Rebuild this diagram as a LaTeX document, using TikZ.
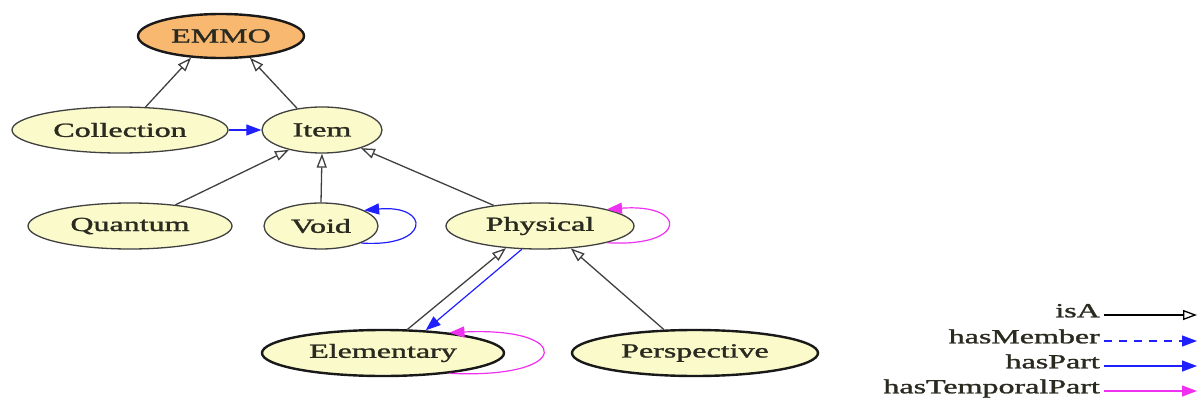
\documentclass[tikz,border=0pt]{standalone}
\usepackage{fontspec}
\setmainfont{Liberation Serif}
\newfontfamily\heavyserif[FakeBold=1.2]{Liberation Serif}
\usetikzlibrary{shapes.geometric,arrows.meta}
\definecolor{nodefill}{HTML}{FAFACA}
\definecolor{rootfill}{HTML}{F8B870}
\definecolor{edgegray}{HTML}{404040}
\definecolor{txtcol}{HTML}{2A2A20}
\definecolor{partblue}{HTML}{2020FF}
\definecolor{tempmag}{HTML}{F030F0}
\newcommand{\wtxt}[1]{\scalebox{1.6}[1]{#1}}
\tikzset{
  cls/.style={ellipse, draw=black!75, line width=1.3pt, fill=nodefill, inner sep=0pt,
    font=\heavyserif\fontsize{20}{24}\selectfont, text=txtcol},
  thickcls/.style={cls, line width=2.4pt, draw=black!90},
  rootcls/.style={cls, line width=2.4pt, draw=black!90, fill=rootfill},
  isa/.style={draw=edgegray, line width=1.3pt, -{Triangle[open, length=14pt, width=10pt, fill=white]}},
  haspart/.style={draw=partblue, line width=1.2pt, -{Triangle[length=15pt, width=11pt]}, color=partblue},
  hasmember/.style={haspart, dash pattern=on 8pt off 7pt},
  temporal/.style={draw=tempmag, line width=1.2pt, -{Triangle[length=15pt, width=11pt]}, color=tempmag},
  legtxt/.style={anchor=mid east, inner sep=0pt, font=\heavyserif\fontsize{20}{24}\selectfont, text=txtcol}
}
\begin{document}
\begin{tikzpicture}[x=1pt,y=-1pt]
\useasboundingbox (0,0) rectangle (1202,401);
% nodes
\node[rootcls, minimum width=166pt, minimum height=44pt] (EMMO) at (221,36) {\wtxt{EMMO}};
\node[cls, minimum width=216pt, minimum height=46pt] (Collection) at (120,130) {\wtxt{Collection}};
\node[cls, minimum width=120pt, minimum height=46pt] (Item) at (322,130) {\wtxt{Item}};
\node[cls, minimum width=204pt, minimum height=46pt] (Quantum) at (130,226) {\wtxt{Quantum}};
\node[cls, minimum width=114pt, minimum height=46pt] (Void) at (321,226) {\wtxt{Void}};
\node[cls, minimum width=188pt, minimum height=46pt] (Physical) at (540,226) {\wtxt{Physical}};
\node[thickcls, minimum width=242pt, minimum height=46pt] (Elementary) at (383,353) {\wtxt{Elementary}};
\node[thickcls, minimum width=246pt, minimum height=46pt] (Perspective) at (695,353) {\wtxt{Perspective}};
% isA edges
\draw[isa] (Collection.42) -- (EMMO.216);
\draw[isa] (Item.139) -- (EMMO.-37);
\draw[isa] (Quantum.25) -- (Item.211);
\draw[isa] (Void.north) -- (Item.south);
\draw[isa] (Physical.156) -- (Item.-25);
\draw[isa] (Elementary.44) -- (Physical.213);
\draw[isa] (Perspective.143) -- (Physical.-36);
% hasPart edges
\draw[haspart] (Collection.east) -- (Item.west);
\draw[haspart] (Physical.232) -- (Elementary.28);
\draw[haspart] (Void.-23) .. controls +(70,5) and +(67,-6) .. (Void.20);
% hasTemporalPart loops
\draw[temporal] (Physical.-14) .. controls +(81,5) and +(81,-6) .. (Physical.14);
\draw[temporal] (Elementary.-17) .. controls +(124,6) and +(124,-6) .. (Elementary.17);
% legend
\coordinate (l1a) at (1104,315); \coordinate (l1b) at (1197,315);
\coordinate (l2a) at (1104,341); \coordinate (l2b) at (1197,341);
\coordinate (l3a) at (1104,366); \coordinate (l3b) at (1197,366);
\coordinate (l4a) at (1104,391); \coordinate (l4b) at (1197,391);
\node[legtxt] (t1) at (1100,315) {\wtxt{isA}};
\node[legtxt] (t2) at (1100,341) {\wtxt{hasMember}};
\node[legtxt] (t3) at (1100,366) {\wtxt{hasPart}};
\node[legtxt] (t4) at (1100,391) {\wtxt{hasTemporalPart}};
\draw[isa, draw=black] (l1a) -- (l1b);
\draw[hasmember] (l2a) -- (l2b);
\draw[haspart] (l3a) -- (l3b);
\draw[temporal] (l4a) -- (l4b);
\end{tikzpicture}
\end{document}
